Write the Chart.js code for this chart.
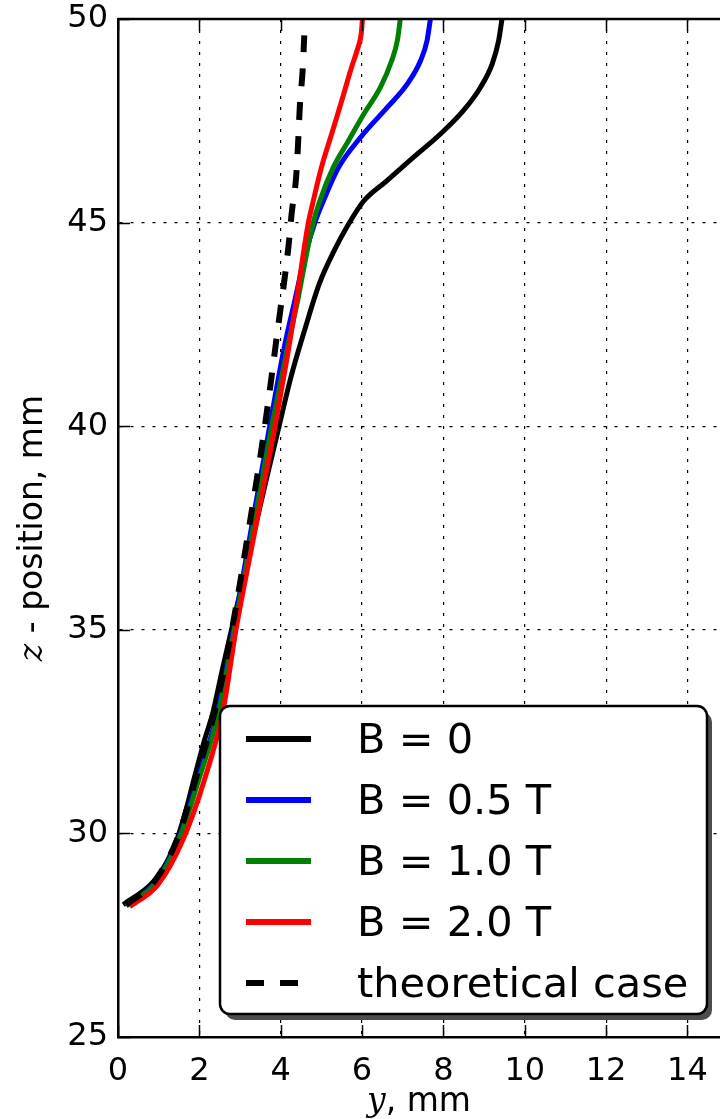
<!DOCTYPE html>
<html>
<head>
<meta charset="utf-8">
<script src="https://cdn.jsdelivr.net/npm/chart.js@4.4.1/dist/chart.umd.min.js"></script>
<style>
  html, body { margin: 0; padding: 0; background: #fff; }
  #wrap { width: 720px; height: 1119px; overflow: hidden; }
</style>
</head>
<body>
<div id="wrap"><canvas id="trajChart" width="720" height="1119"></canvas></div>
<script>
// jet trajectories: lateral offset y (mm) against height z (mm)
const b0Y   = [0.13, 0.86, 1.2, 1.45, 1.65, 1.86, 2.1, 2.34, 2.56, 2.79, 3.08, 3.37, 3.66, 3.96, 4.25, 4.6, 4.95, 5.33, 5.62, 6.04, 6.6, 7.26, 7.92, 8.49, 8.91, 9.2, 9.36, 9.44];
const b0Z   = [28.25, 28.8, 29.3, 29.85, 30.5, 31.3, 32.2, 33.0, 34.0, 35.0, 36.25, 37.5, 38.75, 40.0, 41.2, 42.4, 43.5, 44.34, 44.88, 45.53, 46.02, 46.6, 47.17, 47.75, 48.32, 48.9, 49.48, 50.0];

const b05Y  = [0.2, 0.9, 1.48, 1.95, 2.45, 2.84, 3.28, 3.73, 4.1, 4.35, 4.6, 4.84, 5.05, 5.42, 5.96, 6.62, 7.11, 7.44, 7.6, 7.68];
const b05Z  = [28.22, 28.78, 29.85, 31.3, 33.0, 35.0, 37.5, 40.0, 42.0, 43.1, 44.2, 45.0, 45.53, 46.35, 47.09, 47.83, 48.4, 48.98, 49.48, 50.0];

const b10Y  = [0.2, 0.92, 1.5, 1.98, 2.48, 2.86, 3.32, 3.78, 4.18, 4.42, 4.63, 4.8, 4.96, 5.29, 5.66, 6.04, 6.45, 6.73, 6.87, 6.94];
const b10Z  = [28.22, 28.78, 29.85, 31.3, 33.0, 35.0, 37.5, 40.0, 42.0, 43.1, 44.2, 45.0, 45.53, 46.35, 47.0, 47.66, 48.32, 48.98, 49.48, 50.0];

const b20Y  = [0.29, 0.98, 1.6, 2.12, 2.58, 2.9, 3.38, 3.86, 4.16, 4.39, 4.55, 4.68, 4.8, 5.0, 5.25, 5.5, 5.74, 5.9, 5.98, 6.01];
const b20Z  = [28.2, 28.74, 29.85, 31.3, 33.0, 35.0, 37.5, 40.0, 41.7, 43.1, 44.2, 45.0, 45.53, 46.35, 47.17, 47.99, 48.81, 49.3, 49.64, 50.0];

const theoY = [0.2, 0.88, 1.47, 1.9, 2.38, 2.8, 3.22, 3.61, 3.93, 4.19, 4.27, 4.38, 4.43, 4.47, 4.54, 4.58];
const theoZ = [28.25, 28.8, 29.9, 31.3, 33.0, 35.0, 37.5, 40.0, 42.4, 44.4, 45.23, 46.13, 47.0, 47.85, 48.75, 49.6];

const yTicks = [0, 2, 4, 6, 8, 10, 12, 14];
const zTicks = [25, 30, 35, 40, 45, 50];

const toPoints = (xs, zs) => xs.map((x, i) => ({ x: x, y: zs[i] }));

const FONT = 'DejaVu Sans';

// inward ticks, top frame, axis titles with italic variable, boxed legend
const framePlugin = {
  id: 'framePlugin',
  afterDraw(chart) {
    const ctx = chart.ctx;
    const area = chart.chartArea;
    const sx = chart.scales.x;
    const sy = chart.scales.y;

    ctx.save();
    ctx.strokeStyle = '#000';
    ctx.lineWidth = 1.5;
    ctx.beginPath();
    sx.ticks.forEach(t => {
      const px = Math.round(sx.getPixelForValue(t.value)) + 0.5;
      ctx.moveTo(px, area.bottom); ctx.lineTo(px, area.bottom - 12);
      ctx.moveTo(px, area.top); ctx.lineTo(px, area.top + 12);
    });
    sy.ticks.forEach(t => {
      const py = Math.round(sy.getPixelForValue(t.value)) + 0.5;
      ctx.moveTo(area.left, py); ctx.lineTo(area.left + 12, py);
    });
    ctx.stroke();

    ctx.lineWidth = 2.5;
    ctx.beginPath();
    ctx.moveTo(area.left, area.top);
    ctx.lineTo(area.right, area.top);
    ctx.stroke();

    // axis titles
    ctx.fillStyle = '#000';
    ctx.textBaseline = 'alphabetic';
    const drawTitle = (varName, rest, cx, cy, rot) => {
      ctx.save();
      ctx.translate(cx, cy);
      ctx.rotate(rot);
      ctx.font = 'italic 33px "DejaVu Serif"';
      const w1 = ctx.measureText(varName).width;
      ctx.font = '33px "' + FONT + '"';
      const w2 = ctx.measureText(rest).width;
      const x0 = -(w1 + w2) / 2;
      ctx.font = 'italic 33px "DejaVu Serif"';
      ctx.fillText(varName, x0, 0);
      ctx.font = '33px "' + FONT + '"';
      ctx.fillText(rest, x0 + w1, 0);
      ctx.restore();
    };
    drawTitle('y', ', mm', (area.left + area.right) / 2, 1111, 0);
    drawTitle('z', ' - position, mm', 42, (area.top + area.bottom) / 2, -Math.PI / 2);

    // legend box with shadow
    const bx = 220, by = 706, bw = 487, bh = 308, r = 10;
    const rr = (x, y) => {
      ctx.beginPath();
      ctx.roundRect(x, y, bw, bh, r);
    };
    ctx.fillStyle = '#4d4d4d';
    rr(bx + 5, by + 6); ctx.fill();
    ctx.fillStyle = '#fff';
    rr(bx, by); ctx.fill();
    ctx.lineWidth = 2.5;
    ctx.strokeStyle = '#000';
    rr(bx, by); ctx.stroke();

    ctx.font = '41.5px "' + FONT + '"';
    chart.data.datasets.forEach((ds, i) => {
      const cy = 739 + i * 61;
      ctx.save();
      ctx.strokeStyle = ds.borderColor;
      ctx.lineWidth = 6;
      ctx.setLineDash(ds.borderDash || []);
      ctx.beginPath();
      ctx.moveTo(246, cy);
      ctx.lineTo(311, cy);
      ctx.stroke();
      ctx.restore();
      ctx.fillStyle = '#000';
      ctx.fillText(ds.label, 357, cy + 14);
    });
    ctx.restore();
  }
};

const lineStyle = { showLine: true, pointRadius: 0, borderWidth: 5, cubicInterpolationMode: 'monotone', fill: false };

new Chart(document.getElementById('trajChart'), {
  type: 'scatter',
  data: {
    datasets: [
      Object.assign({ label: 'B = 0', data: toPoints(b0Y, b0Z), borderColor: '#000000', order: 4 }, lineStyle),
      Object.assign({ label: 'B = 0.5 T', data: toPoints(b05Y, b05Z), borderColor: '#0000ff', order: 3 }, lineStyle),
      Object.assign({ label: 'B = 1.0 T', data: toPoints(b10Y, b10Z), borderColor: '#008000', order: 2 }, lineStyle),
      Object.assign({ label: 'B = 2.0 T', data: toPoints(b20Y, b20Z), borderColor: '#ff0000', order: 1 }, lineStyle),
      Object.assign({}, lineStyle, { label: 'theoretical case', data: toPoints(theoY, theoZ), borderColor: '#000000',
        borderDash: [18, 16], borderWidth: 6, order: 0, borderCapStyle: 'butt' })
    ]
  },
  options: {
    responsive: false,
    animation: false,
    layout: { padding: { top: 19, left: 0, right: 0, bottom: 0 } },
    plugins: { legend: { display: false }, tooltip: { enabled: false } },
    scales: {
      x: {
        type: 'linear', min: 0, max: 14.8,
        afterBuildTicks: s => { s.ticks = yTicks.map(v => ({ value: v })); },
        afterFit: s => { s.height = 82; s.paddingLeft = 0; s.paddingRight = 0; },
        grid: { color: '#000', lineWidth: 1.2, drawTicks: false },
        border: { display: true, color: '#000', width: 2.5, dash: [3, 8] },
        ticks: { color: '#000', font: { family: FONT, size: 32 }, padding: 15, maxRotation: 0, autoSkip: false }
      },
      y: {
        type: 'linear', min: 25, max: 50,
        afterBuildTicks: s => { s.ticks = zTicks.map(v => ({ value: v })); },
        afterFit: s => { s.width = 118; s.paddingTop = 0; s.paddingBottom = 0; },
        grid: { color: '#000', lineWidth: 1.2, drawTicks: false },
        border: { display: true, color: '#000', width: 2.5, dash: [3, 8] },
        ticks: { color: '#000', font: { family: FONT, size: 32 }, padding: 10 }
      }
    }
  },
  plugins: [framePlugin]
});
</script>
</body>
</html>
